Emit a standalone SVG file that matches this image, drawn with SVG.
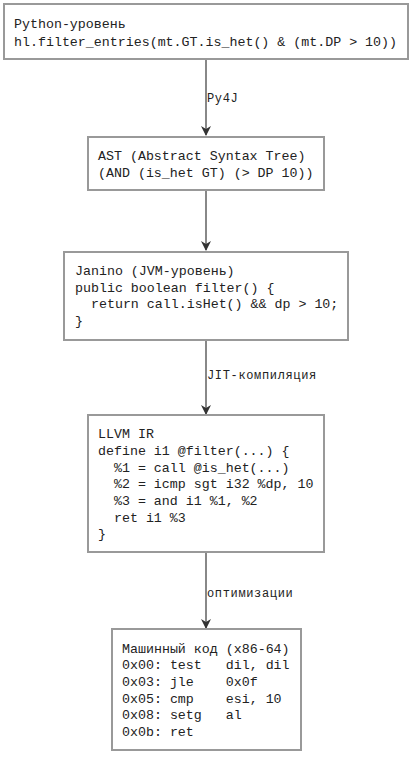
<svg xmlns="http://www.w3.org/2000/svg" width="416" height="758" viewBox="0 0 416 758">
<style>
.box{fill:#fff;stroke:#999;stroke-width:2}
.t{font-family:"Liberation Mono","DejaVu Sans Mono",monospace;font-size:13.3px;fill:#222;white-space:pre}
.lbl{font-family:"Liberation Mono","DejaVu Sans Mono",monospace;font-size:12px;letter-spacing:0.65px;fill:#222}
.edge{stroke:#888;stroke-width:2;fill:none}
</style>
<defs>
<marker id="arr" viewBox="0 0 10 10" refX="9" refY="5" markerWidth="5" markerHeight="5" orient="auto" markerUnits="strokeWidth">
<path d="M0,0 L10,5 L0,10 L3,5 Z" fill="#333"/>
</marker>
</defs>
<g id="connectors">
<line class="edge" x1="206" y1="60" x2="206" y2="135" marker-end="url(#arr)"/>
<text class="lbl" x="207" y="102">Py4J</text>
<line class="edge" x1="206" y1="190" x2="206" y2="250" marker-end="url(#arr)"/>
<line class="edge" x1="206" y1="340" x2="206" y2="414" marker-end="url(#arr)"/>
<text class="lbl" x="207" y="379">JIT-компиляция</text>
<line class="edge" x1="206" y1="553" x2="206" y2="628" marker-end="url(#arr)"/>
<text class="lbl" x="207" y="597">оптимизации</text>
</g>
<g id="python">
<rect class="box" x="4" y="4" width="404" height="55"/>
<text class="t" x="14" y="28">Python-уровень</text>
<text class="t" x="14" y="46">hl.filter_entries(mt.GT.is_het() &amp; (mt.DP &gt; 10))</text>
</g>
<g id="ast">
<rect class="box" x="88" y="137" width="236" height="53"/>
<text class="t" x="98" y="160">AST (Abstract Syntax Tree)</text>
<text class="t" x="98" y="177">(AND (is_het GT) (&gt; DP 10))</text>
</g>
<g id="janino">
<rect class="box" x="64" y="252" width="284" height="88"/>
<text class="t" x="75" y="275">Janino (JVM-уровень)</text>
<text class="t" x="75" y="292">public boolean filter() {</text>
<text class="t" x="75" y="308">  return call.isHet() &amp;&amp; dp &gt; 10;</text>
<text class="t" x="75" y="325">}</text>
</g>
<g id="llvm">
<rect class="box" x="88" y="415" width="236" height="137"/>
<text class="t" x="98" y="438">LLVM IR</text>
<text class="t" x="98" y="455">define i1 @filter(...) {</text>
<text class="t" x="98" y="472">  %1 = call @is_het(...)</text>
<text class="t" x="98" y="488">  %2 = icmp sgt i32 %dp, 10</text>
<text class="t" x="98" y="505">  %3 = and i1 %1, %2</text>
<text class="t" x="98" y="522">  ret i1 %3</text>
<text class="t" x="98" y="538">}</text>
</g>
<g id="machine">
<rect class="box" x="112" y="629" width="189" height="121"/>
<text class="t" x="122" y="653">Машинный код (x86-64)</text>
<text class="t" x="122" y="669">0x00: test   dil, dil</text>
<text class="t" x="122" y="686">0x03: jle    0x0f</text>
<text class="t" x="122" y="703">0x05: cmp    esi, 10</text>
<text class="t" x="122" y="719">0x08: setg   al</text>
<text class="t" x="122" y="736">0x0b: ret</text>
</g>
</svg>
